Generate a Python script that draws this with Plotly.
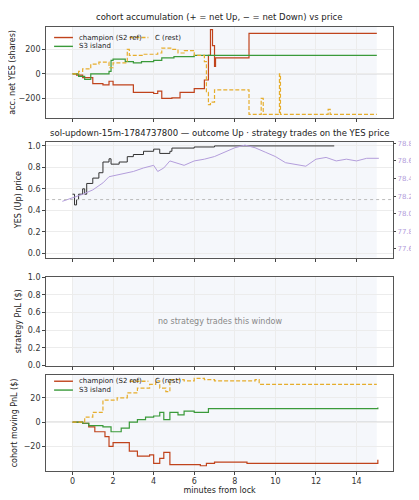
import plotly.graph_objects as go

# accumulation (shares)
champ_t = [0,0.2,0.5,1.0,1.5,1.8,2.0,2.8,3.0,4.0,4.2,4.4,4.9,5.3,6.0,6.5,6.7,6.8,6.9,7.0,7.05,8.6,8.7,15]
champ_v = [0,-10,-30,-80,-90,-60,-90,-90,-150,-160,-140,-200,-195,-150,-120,-50,150,360,230,60,130,130,330,330]
s3_t = [0,0.3,0.6,0.9,1.6,1.8,1.9,2.0,2.6,3.0,3.4,4.0,4.4,5.0,6.0,15]
s3_v = [0,-20,-45,0,0,20,110,120,100,90,100,110,130,140,150,150]
c_t = [0,0.3,0.5,0.9,1.3,1.8,2.0,2.6,2.7,2.8,3.5,4.2,4.4,4.9,5.2,5.5,6.0,6.5,6.6,6.7,6.8,7.0,8.6,8.7,9.2,9.3,9.4,10.1,10.2,10.25,12.5,12.6,12.7,15]
c_v = [0,20,40,80,95,50,90,90,200,150,160,170,210,200,170,190,150,100,-150,-250,-230,-130,-130,-330,-330,-200,-330,-330,0,-330,-330,-290,-330,-330]
# YES price
yes_t = [0,0.1,0.2,0.3,0.5,0.6,0.7,1.0,1.3,1.5,1.8,1.9,2.3,2.7,3.0,3.5,4.0,4.3,4.8,4.9,6.0,7.0,12.9]
yes_v = [0.55,0.45,0.5,0.55,0.6,0.55,0.65,0.7,0.75,0.85,0.88,0.83,0.85,0.9,0.92,0.95,0.97,0.93,0.95,0.98,0.99,1.0,1.0]
sol_t = [-0.5,0,0.5,1.0,1.5,1.8,2.5,3.0,3.5,4.0,4.2,4.5,4.8,5.5,6.0,6.5,7.0,7.5,8.0,8.5,9.0,9.5,10.0,10.5,11.0,11.5,12.0,12.5,13.0,13.5,14.0,14.5,15.1]
sol_v = [78.14,78.18,78.22,78.27,78.35,78.42,78.45,78.48,78.52,78.55,78.48,78.52,78.60,78.55,78.60,78.62,78.65,78.70,78.75,78.78,78.75,78.70,78.65,78.58,78.56,78.54,78.62,78.64,78.60,78.62,78.60,78.63,78.63]
strike_yes = 0.5
# PnL
pc_t = [0,0.5,0.8,1.1,1.6,1.8,2.0,2.8,3.2,3.8,4.0,4.3,4.5,4.8,6.3,6.6,7.0,8.6,15,15.05]
pc_v = [0,-1,-4,-8,-12,-20,-17,-24,-28,-27,-34,-30,-25,-35,-36,-34,-33,-34,-34,-31]
ps_t = [0,0.5,0.8,1.5,1.9,2.4,2.8,3.2,3.6,4.0,4.3,4.5,4.8,5.2,5.5,6.0,6.7,15,15.05]
ps_v = [0,-1,-3,-4,-8,-5,0,2,4,5,8,2,8,6,9,8,11,11,12]
pr_t = [0,0.6,1.0,1.5,1.9,2.2,2.7,3.2,3.8,4.1,4.3,4.6,4.8,5.5,6.0,6.5,7.0,8.5,9.0,9.2,15]
pr_v = [0,4,8,18,18,20,24,28,31,34,28,25,35,34,36,35,34,34,35,31,31]

RUST = "#c0431c"; GREEN = "#3a9a3a"; GOLD = "#e6ad2c"; PURP = "#b39ddb"
DASH = "4px,2px"
F = "DejaVu Sans"
fig = go.Figure()
def step(x, y, color, ax, dash="solid", w=1.2):
    fig.add_trace(go.Scatter(x=x, y=y, mode="lines", line=dict(color=color, width=w, dash=dash, shape="hv"),
                             xaxis="x" if ax == 1 else f"x{ax}", yaxis=f"y{ax}" if ax > 1 else "y", showlegend=False))

step(champ_t, champ_v, RUST, 1); step(s3_t, s3_v, GREEN, 1); step(c_t, c_v, GOLD, 1, DASH)
step(yes_t, yes_v, "#333333", 2, w=1.0)
fig.add_trace(go.Scatter(x=sol_t, y=sol_v, mode="lines", line=dict(color=PURP, width=1), xaxis="x2", yaxis="y5", showlegend=False))
step(pc_t, pc_v, RUST, 4); step(ps_t, ps_v, GREEN, 4); step(pr_t, pr_v, GOLD, 4, DASH)

doms = {1: [0.784, 0.97], 2: [0.50, 0.736], 3: [0.28, 0.46], 4: [0.066, 0.26]}
xd = [0.091, 0.919]
ax_common = dict(showline=True, linecolor="#555", linewidth=1, mirror=True, gridcolor="#ececec",
                 ticks="outside", ticklen=3, tickfont=dict(size=8, color="#333"), zeroline=False)
lay = dict(width=419, height=500, margin=dict(l=0, r=0, t=0, b=0), plot_bgcolor="white", paper_bgcolor="white",
           font=dict(family=F, size=8, color="#222"))
yr = {1: [-360, 384], 2: [-0.04, 1.04], 3: [0, 1], 4: [-40, 38.5]}
ytit = {1: "acc. net YES (shares)", 2: "YES (Up) price", 3: "strategy PnL ($)", 4: "cohort moving PnL ($)"}
for i in range(1, 5):
    xk = "xaxis" if i == 1 else f"xaxis{i}"; yk = "yaxis" if i == 1 else f"yaxis{i}"
    lay[xk] = dict(ax_common, domain=xd, range=[-1.3, 15.8], anchor="y" if i == 1 else f"y{i}",
                   tickvals=[0, 2, 4, 6, 8, 10, 12, 14], showticklabels=(i == 4))
    lay[yk] = dict(ax_common, domain=doms[i], range=yr[i], anchor="x" if i == 1 else f"x{i}",
                   title=dict(text=ytit[i], font=dict(size=8), standoff=4))
lay["yaxis"]["tickvals"] = [-200, 0, 200]
lay["yaxis2"]["tickvals"] = [0, 0.2, 0.4, 0.6, 0.8, 1.0]; lay["yaxis2"]["tickformat"] = ".1f"
lay["yaxis3"]["tickvals"] = [0, 0.2, 0.4, 0.6, 0.8, 1.0]; lay["yaxis3"]["tickformat"] = ".1f"
lay["yaxis4"]["tickvals"] = [-20, 0, 20, 40]
lay["xaxis4"]["title"] = dict(text="minutes from lock", font=dict(size=8), standoff=1)
lay["yaxis5"] = dict(overlaying="y2", side="right", anchor="x2", range=[77.5, 78.82], showgrid=False,
                     tickvals=[77.6, 77.8, 78.0, 78.2, 78.4, 78.6, 78.8], ticks="outside", ticklen=2,
                     tickfont=dict(size=7, color=PURP), tickformat=".1f",
                     title=dict(text="SOL/USD (strike dotted = YES 0.5)", font=dict(size=6, color=PURP), standoff=0))
fig.update_layout(**lay)

shapes = []
for i in range(1, 5):
    xr = "x" if i == 1 else f"x{i}"; yr_ = "y domain" if i == 1 else f"y{i} domain"
    shapes.append(dict(type="rect", xref=xr, yref=yr_, x0=0, x1=15, y0=0, y1=1, fillcolor="#eef1f8",
                       opacity=0.6, line_width=0, layer="below"))
    yref = "y" if i == 1 else f"y{i}"
    if i in (1, 4):
        shapes.append(dict(type="line", xref=f"{xr} domain", yref=yref, x0=0, x1=1, y0=0, y1=0,
                           line=dict(color="#bbb", width=0.8), layer="below"))
shapes.append(dict(type="line", xref="x2 domain", yref="y2", x0=0, x1=1, y0=strike_yes, y1=strike_yes,
                   line=dict(color="#bbb", width=1, dash="dot")))
anns = [
    dict(text="cohort accumulation (+ = net Up, − = net Down) vs price", x=0.505, y=0.975, yanchor="bottom"),
    dict(text="sol-updown-15m-1784737800 — outcome Up · strategy trades on the YES price", x=0.505, y=0.74, yanchor="bottom"),
    dict(text="no strategy trades this window", x=0.505, y=0.37, yanchor="middle", font=dict(size=8, color="#888")),
]
for a in anns:
    a.update(xref="paper", yref="paper", showarrow=False)
    a.setdefault("font", dict(size=8.5, color="#222"))
def legend(y1, y2):
    items = [(0.11, y1, RUST, "solid", "champion (S2 ref)"), (0.29, y1, GOLD, DASH, "C (rest)"),
             (0.11, y2, GREEN, "solid", "S3 island")]
    for x, y, c, d, t in items:
        shapes.append(dict(type="line", xref="paper", yref="paper", x0=x, x1=x + 0.045, y0=y, y1=y,
                           line=dict(color=c, width=1.4, dash=d)))
        anns.append(dict(text=t, xref="paper", yref="paper", x=x + 0.055, y=y, xanchor="left",
                         yanchor="middle", showarrow=False, font=dict(size=7, color="#222")))
legend(0.948, 0.93)
legend(0.248, 0.23)
fig.update_layout(shapes=shapes, annotations=anns)
fig.write_html("out.html")
